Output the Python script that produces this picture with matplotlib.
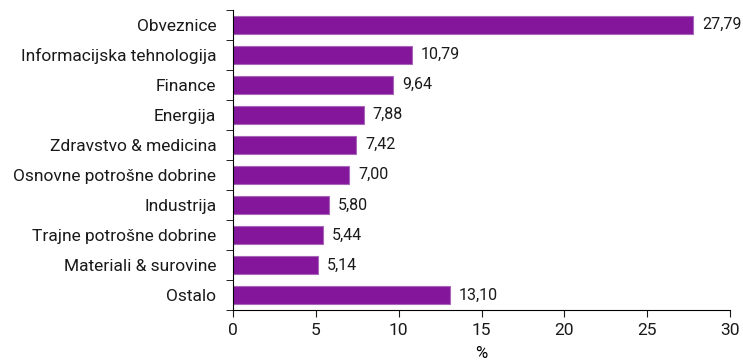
import numpy as np
import matplotlib.pyplot as plt

plt.rcParams['font.family'] = ['Roboto', 'DejaVu Sans']

# Sektorji in deleži (%)
sektorji = ['Obveznice', 'Informacijska tehnologija', 'Finance', 'Energija',
            'Zdravstvo & medicina', 'Osnovne potrošne dobrine', 'Industrija',
            'Trajne potrošne dobrine', 'Materiali & surovine', 'Ostalo']
delezi = [27.79, 10.79, 9.64, 7.88, 7.42, 7.00, 5.80, 5.44, 5.14, 13.10]

fig = plt.figure(figsize=(7.43, 3.62), dpi=100)
ax = fig.add_axes([0.3136, 0.1436, 0.669, 0.830])

y = np.arange(len(sektorji))
ax.barh(y, delezi, height=0.6, color='#84169c', edgecolor='#a866b8', linewidth=0.8)

for yi, v in zip(y, delezi):
    ax.text(v + 0.55, yi, f'{v:.2f}'.replace('.', ','), va='center', ha='left',
            fontsize=11.5, color='#1a1a1a')

ax.set_ylim(len(sektorji) - 0.5, -0.5)
ax.set_xlim(0, 30)
ax.set_xticks(range(0, 31, 5))
ax.set_yticks(y)
ax.set_yticklabels(sektorji, fontsize=12.5, color='#1a1a1a')
ax.tick_params(axis='y', which='major', length=0, pad=12)
ax.set_yticks(np.arange(-0.5, len(sektorji), 1), minor=True)
ax.tick_params(axis='y', which='minor', length=5, direction='out')
ax.tick_params(axis='x', length=5, direction='out', labelsize=12.5, colors='#1a1a1a', pad=4)
ax.set_xlabel('%', fontsize=12, labelpad=6)

for s in ['top', 'right']:
    ax.spines[s].set_visible(False)

fig.savefig('out.png', dpi=100)
